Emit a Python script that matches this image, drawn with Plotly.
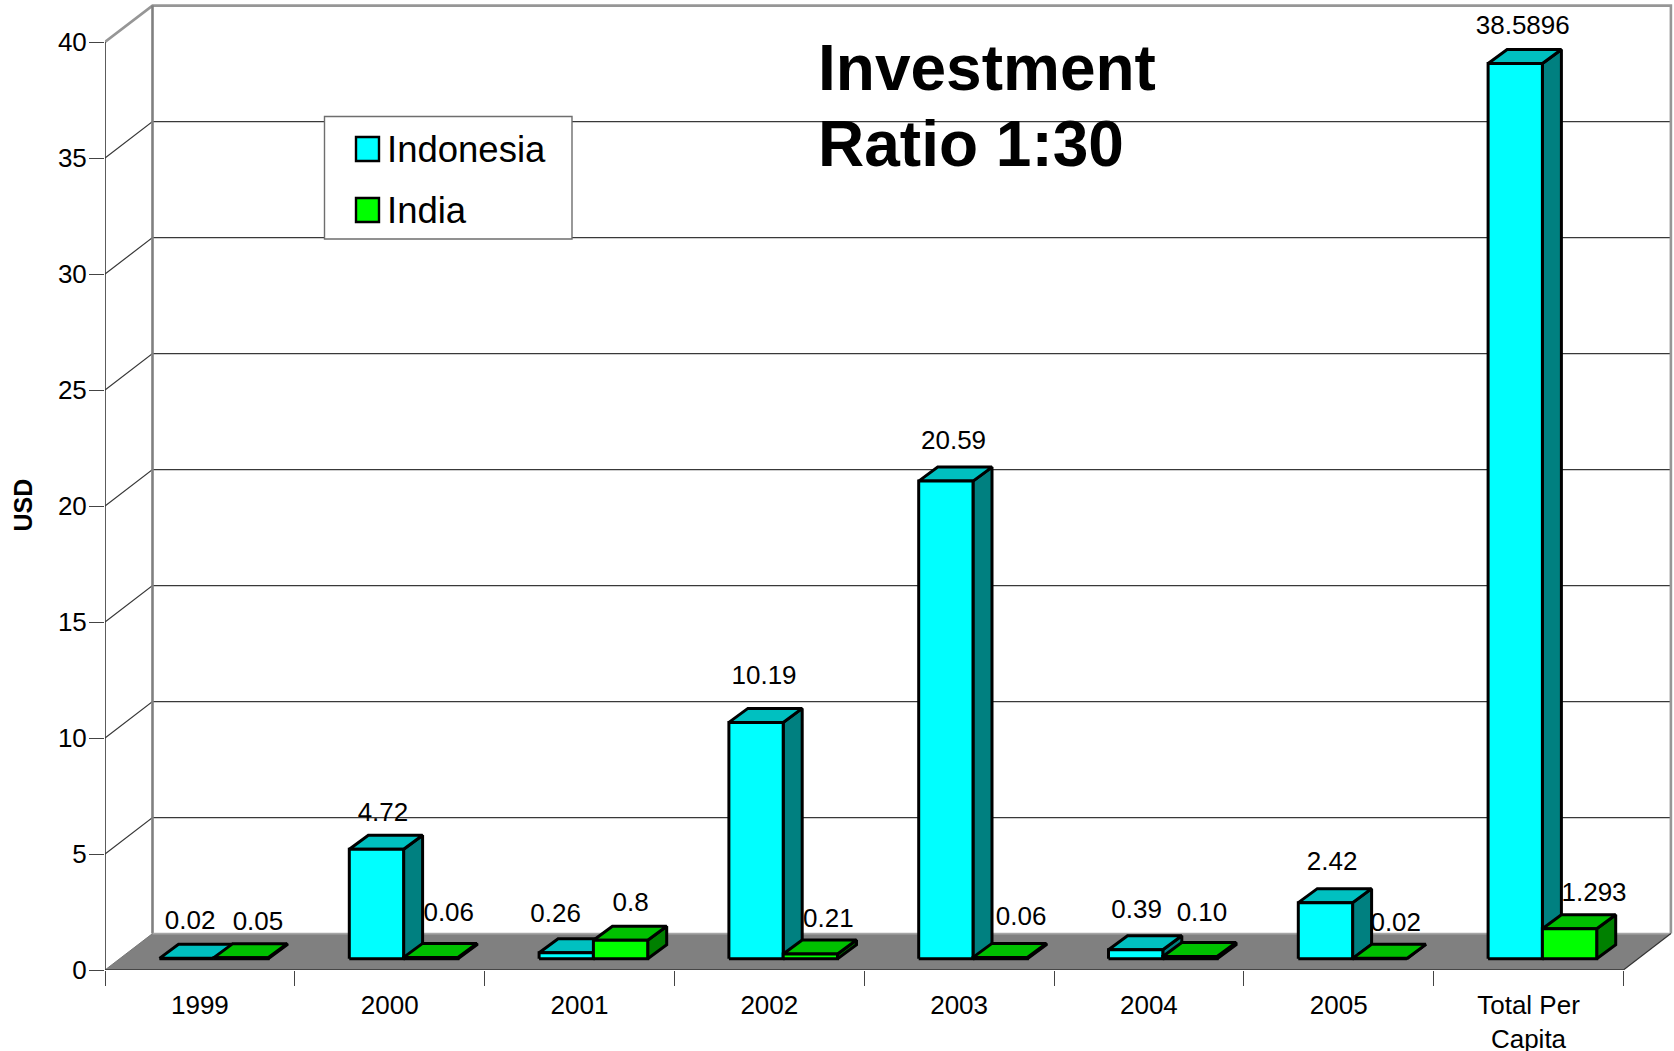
import plotly.graph_objects as go

# Chart data
categories = ["1999", "2000", "2001", "2002", "2003", "2004", "2005", "Total Per<br>Capita"]
indonesia = [0.02, 4.72, 0.26, 10.19, 20.59, 0.39, 2.42, 38.5896]
india = [0.05, 0.06, 0.8, 0.21, 0.06, 0.10, 0.02, 1.293]
indonesia_labels = ["0.02", "4.72", "0.26", "10.19", "20.59", "0.39", "2.42", "38.5896"]
india_labels = ["0.05", "0.06", "0.8", "0.21", "0.06", "0.10", "0.02", "1.293"]
y_ticks = [0, 5, 10, 15, 20, 25, 30, 35, 40]

# Canvas and scale of the pseudo-3D projection
WIDTH, HEIGHT = 1674, 1051
M_LEFT, M_BOTTOM = 105, 81
PX_X = 189.8   # pixels per category
PX_Y = 23.2    # pixels per USD
FONT = "Liberation Sans, Arial, sans-serif"


def ux(px):
    return px / PX_X


def uy(px):
    return px / PX_Y


def sx(page_x):
    return (page_x - M_LEFT) / PX_X


def sy(page_y):
    return (HEIGHT - M_BOTTOM - page_y) / PX_Y


WALL_DX, WALL_DY = ux(47.5), uy(36.4)      # full depth of the floor
BAR_DX, BAR_DY = ux(19), uy(14)            # depth of a bar
BASE_DX, BASE_DY = ux(14), uy(11.2)        # where bar fronts sit on the floor
GAP = ux(40.5)
BAR_W = ux(54.3)
N = len(categories)
X_END = N + WALL_DX

# Per-label nudges, in pixels, of the value labels from the top of each bar
indonesia_nudge_x = [3.5, 6.5, -10.6, 8, 7.7, 1, 6.6, 7.5]
indonesia_lift = [21.9, 20.7, 22.8, 31.1, 24.5, 24.5, 25, 21.8]
india_nudge_x = [17, 18, 10, 18, 21, 12, 16, 24.5]
india_lift = [20.2, 28.5, 22.2, 19.9, 24.5, 27.5, 19.8, 20.2]


def polygons(rings):
    xs, ys = [], []
    for ring in rings:
        for px, py in ring + [ring[0]]:
            xs.append(px)
            ys.append(py)
        xs.append(None)
        ys.append(None)
    return xs, ys


def face_trace(rings, fill, name):
    xs, ys = polygons(rings)
    return go.Scatter(x=xs, y=ys, mode="lines", fill="toself", fillcolor=fill, name=name,
                      line=dict(color="#000000", width=3), hoverinfo="skip", cliponaxis=False)


def line_trace(xs, ys, color, width):
    return go.Scatter(x=xs, y=ys, mode="lines", line=dict(color=color, width=width),
                      hoverinfo="skip", cliponaxis=False)


def series_traces(values, slot, front, top, side, name):
    fronts, tops, sides = [], [], []
    for i, v in enumerate(values):
        l = i + BASE_DX + GAP + slot * BAR_W
        r = l + BAR_W
        b = BASE_DY
        t = b + v
        fronts.append([(l, b), (r, b), (r, t), (l, t)])
        tops.append([(l, t), (r, t), (r + BAR_DX, t + BAR_DY), (l + BAR_DX, t + BAR_DY)])
        sides.append([(r, b), (r + BAR_DX, b + BAR_DY), (r + BAR_DX, t + BAR_DY), (r, t)])
    return [face_trace(sides, side, name), face_trace(tops, top, name), face_trace(fronts, front, name)]


def label_trace(values, labels, slot, nudge, lift):
    xs = [i + BASE_DX + GAP + (slot + 0.5) * BAR_W + ux(n) for i, n in enumerate(nudge)]
    ys = [BASE_DY + BAR_DY + v + uy(h) for v, h in zip(values, lift)]
    return go.Scatter(x=xs, y=ys, mode="text", text=labels, textposition="middle center",
                      textfont=dict(family=FONT, size=26, color="#000000"), hoverinfo="skip")


fig = go.Figure()

# Floor
fig.add_trace(go.Scatter(
    x=[0, N, X_END, WALL_DX, 0], y=[0, 0, WALL_DY, WALL_DY, 0], mode="lines", fill="toself",
    fillcolor="#808080", line=dict(width=0), hoverinfo="skip"))

# Back-wall gridlines and their diagonals along the side wall
for v in y_ticks[1:-1]:
    fig.add_trace(line_trace([0, WALL_DX, X_END], [v, v + WALL_DY, v + WALL_DY], "#383838", 1.2))

# Wall frame
fig.add_trace(line_trace([0, WALL_DX, X_END, X_END], [40, 40 + WALL_DY, 40 + WALL_DY, WALL_DY], "#969696", 2.6))
fig.add_trace(line_trace([WALL_DX, WALL_DX], [WALL_DY, 40 + WALL_DY], "#808080", 2.6))
fig.add_trace(line_trace([WALL_DX, X_END], [WALL_DY, WALL_DY], "#a6a6a6", 1.6))
fig.add_trace(line_trace([N, X_END], [0, WALL_DY], "#333333", 1.2))
fig.add_trace(line_trace([0, WALL_DX], [0, WALL_DY], "#777777", 1.0))
fig.add_trace(line_trace([0, 0], [0, 40], "#333333", 1.6))
fig.add_trace(line_trace([0, N], [0, 0], "#333333", 1.6))

# Bars, back faces first so the fronts overlap them
fig.add_traces(series_traces(indonesia, 0, "#00FFFF", "#00C0C0", "#008080", "Indonesia"))
fig.add_traces(series_traces(india, 1, "#00FF00", "#00C000", "#008000", "India"))

# Value labels
fig.add_trace(label_trace(indonesia, indonesia_labels, 0, indonesia_nudge_x, indonesia_lift))
fig.add_trace(label_trace(india, india_labels, 1, india_nudge_x, india_lift))

# Legend panel
shapes = [
    dict(type="rect", xref="x", yref="y", x0=sx(324.5), x1=sx(572), y0=sy(239), y1=sy(116.5),
         fillcolor="#ffffff", line=dict(color="#6e6e6e", width=1.4)),
    dict(type="rect", xref="x", yref="y", x0=sx(356), x1=sx(379), y0=sy(161), y1=sy(137),
         fillcolor="#00FFFF", line=dict(color="#000000", width=2.4)),
    dict(type="rect", xref="x", yref="y", x0=sx(356), x1=sx(379), y0=sy(222), y1=sy(198),
         fillcolor="#00FF00", line=dict(color="#000000", width=2.4)),
]

annotations = [
    dict(text="Indonesia", x=sx(385), y=sy(149), xanchor="left", yanchor="middle", showarrow=False,
         font=dict(family=FONT, size=36.5, color="#000000")),
    dict(text="India", x=sx(385), y=sy(210), xanchor="left", yanchor="middle", showarrow=False,
         font=dict(family=FONT, size=36.5, color="#000000")),
    dict(text="<b>Investment</b>", x=sx(816), y=sy(68), xanchor="left", yanchor="middle", showarrow=False,
         font=dict(family=FONT, size=64, color="#000000")),
    dict(text="<b>Ratio 1:30</b>", x=sx(816), y=sy(144), xanchor="left", yanchor="middle", showarrow=False,
         font=dict(family=FONT, size=64, color="#000000")),
    dict(text="<b>USD</b>", xref="paper", x=(22.5 - M_LEFT) / (WIDTH - M_LEFT), y=sy(505),
         xanchor="center", yanchor="middle", textangle=-90,
         showarrow=False, font=dict(family=FONT, size=25, color="#000000")),
]

fig.update_layout(
    width=WIDTH, height=HEIGHT, autosize=False,
    margin=dict(l=M_LEFT, r=0, t=0, b=M_BOTTOM, pad=0),
    paper_bgcolor="#ffffff", plot_bgcolor="#ffffff",
    showlegend=False, hovermode=False,
    shapes=shapes, annotations=annotations,
    font=dict(family=FONT, color="#000000"),
    xaxis=dict(
        automargin=False,
        range=[0, (WIDTH - M_LEFT) / PX_X], showgrid=False, zeroline=False, fixedrange=True,
        tickmode="array", tickvals=[i + 0.5 for i in range(N)], ticktext=categories,
        ticks="outside", ticklen=15, tickcolor="rgba(0,0,0,0)", tickangle=0,
        ticklabelstandoff=-3, tickfont=dict(family=FONT, size=26, color="#000000"),
        minor=dict(tickmode="array", tickvals=list(range(N + 1)), ticks="outside", ticklen=15,
                   tickcolor="#444444", tickwidth=1.4, showgrid=False),
        showline=False,
    ),
    yaxis=dict(
        automargin=False,
        range=[0, (HEIGHT - M_BOTTOM) / PX_Y], showgrid=False, zeroline=False, fixedrange=True,
        tickmode="array", tickvals=y_ticks, ticks="outside", ticklen=15, tickwidth=1.4,
        tickcolor="#444444", tickfont=dict(family=FONT, size=26, color="#000000"),
        ticklabelstandoff=-3, showline=False,
    ),
)

fig.write_html("out.html")
